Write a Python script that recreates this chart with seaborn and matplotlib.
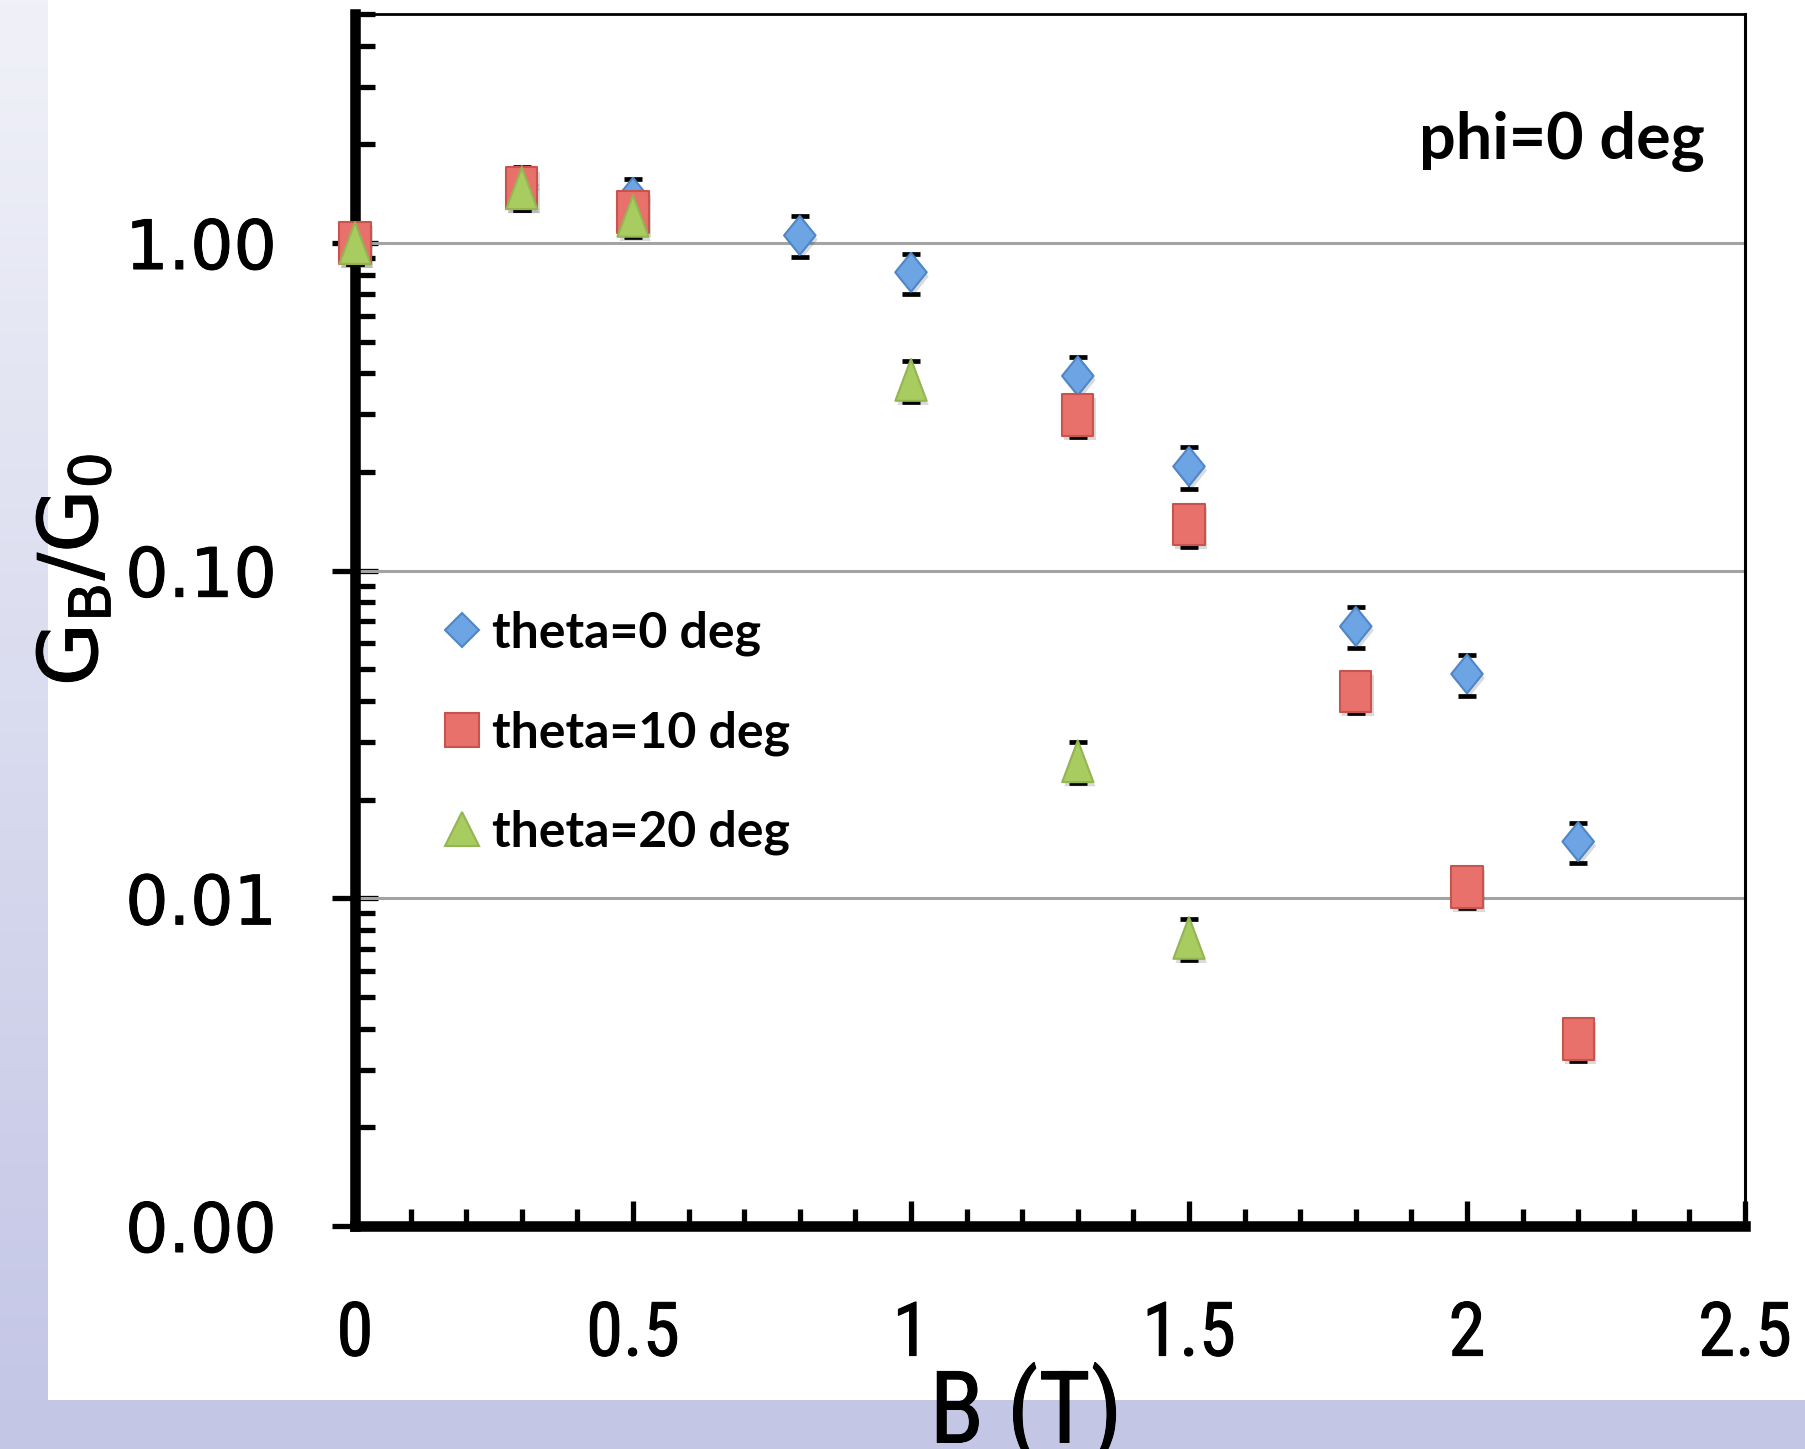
import numpy as np
import pandas as pd
import matplotlib
matplotlib.use("Agg")
import matplotlib.pyplot as plt
import seaborn as sns
from matplotlib import font_manager
from matplotlib.lines import Line2D
from matplotlib.patches import Rectangle
from matplotlib.path import Path
from matplotlib.ticker import FixedLocator, FixedFormatter, LogLocator, MultipleLocator, NullFormatter
import matplotlib.patheffects as pe

# ---------------- data ----------------
B_theta0 = [0.0, 0.3, 0.5, 0.8, 1.0, 1.3, 1.5, 1.8, 2.0, 2.2]
G_theta0 = [1.00, 1.50, 1.38, 1.055, 0.814, 0.393, 0.208, 0.0676, 0.0484, 0.0149]
E_theta0 = [0.14, 0.21, 0.19, 0.15, 0.115, 0.056, 0.030, 0.0097, 0.0069, 0.0021]

B_theta10 = [0.0, 0.3, 0.5, 1.3, 1.5, 1.8, 2.0, 2.2]
G_theta10 = [1.00, 1.47, 1.245, 0.299, 0.1385, 0.0428, 0.01083, 0.00372]
E_theta10 = [0.14, 0.21, 0.18, 0.043, 0.020, 0.0061, 0.0015, 0.00053]

B_theta20 = [0.0, 0.3, 0.5, 1.0, 1.3, 1.5]
G_theta20 = [1.00, 1.47, 1.21, 0.382, 0.0262, 0.00757]
E_theta20 = [0.14, 0.21, 0.17, 0.054, 0.0037, 0.00108]

series_labels = ["theta=0 deg", "theta=10 deg", "theta=20 deg"]
y_tick_values = [0.001, 0.01, 0.1, 1.0]
y_tick_labels = ["0.00", "0.01", "0.10", "1.00"]
x_tick_values = [0.0, 0.5, 1.0, 1.5, 2.0, 2.5]
x_tick_labels = ["0", "0.5", "1", "1.5", "2", "2.5"]
annotation_text = "phi=0 deg"
x_label = "B (T)"
y_label = r"G$_\mathregular{B}$/G$_\mathregular{0}$"

# ---------------- fonts ----------------
def pick(*names):
    for n in names:
        try:
            font_manager.findfont(font_manager.FontProperties(family=n), fallback_to_default=False)
            return n
        except Exception:
            pass
    return "DejaVu Sans"

narrow_font = pick("Liberation Sans Narrow", "DejaVu Sans Condensed", "Roboto Condensed", "DejaVu Sans")
bold_font = pick("Lato", "Open Sans", "Noto Sans", "DejaVu Sans")
tick_font = "DejaVu Sans"

sns.set_theme(style="white")
plt.rcParams["font.family"] = ["DejaVu Sans"]
plt.rcParams["text.color"] = "black"
plt.rcParams["xtick.color"] = "black"
plt.rcParams["ytick.color"] = "black"
plt.rcParams["axes.labelcolor"] = "black"

W, H = 1806, 1449
fig = plt.figure(figsize=(W / 100, H / 100), dpi=100)
fig.patch.set_facecolor("white")

# decorative background: left gradient strip and bottom band
bg = fig.add_axes([0, 49 / H, 48 / W, 1400 / H], zorder=-5)
top_c = np.array([0xF0, 0xF1, 0xF8]) / 255
bot_c = np.array([0xC4, 0xC7, 0xE6]) / 255
t = np.linspace(0, 1, 256)[:, None, None]
grad = top_c * (1 - t) + bot_c * t
bg.imshow(grad, aspect="auto", extent=[0, 1, 0, 1])
bg.set_axis_off()
fig.patches.append(Rectangle((0, 0), 1, 49 / H, transform=fig.transFigure,
                             facecolor="#c3c6e5", edgecolor="none", zorder=-4))

left, right, top, bottom = 355, 1745, 14, 1226
ax = fig.add_axes([left / W, 1 - bottom / H, (right - left) / W, (bottom - top) / H])
ax.set_facecolor("none")

# markers (vertically stretched shapes)
diamond = Path([(0, 0.5), (0.405, 0), (0, -0.5), (-0.405, 0), (0, 0.5)], closed=True)
square = Path([(-0.375, -0.5), (0.375, -0.5), (0.375, 0.5), (-0.375, 0.5), (-0.375, -0.5)], closed=True)
triangle = Path([(0, 0.5), (0.375, -0.5), (-0.375, -0.5), (0, 0.5)], closed=True)

face = ["#6da5e4", "#e8716b", "#a8cc5f"]
edge = ["#4f86c6", "#c9534d", "#93b552"]

series = [
    (B_theta0, G_theta0, E_theta0, diamond, 28.0 ** 2),
    (B_theta10, G_theta10, E_theta10, square, 30.0 ** 2),
    (B_theta20, G_theta20, E_theta20, triangle, 30.0 ** 2),
]

shadow = [pe.SimplePatchShadow(offset=(1.5, -3), shadow_rgbFace="k", alpha=0.16), pe.Normal()]

for i, (bx, gy, ee, mk, s) in enumerate(series):
    ax.errorbar(bx, gy, yerr=ee, fmt="none", ecolor="black", elinewidth=1.2,
                capsize=6.5, capthick=3.4, zorder=2 + i * 0.1, clip_on=False)
for i, (bx, gy, ee, mk, s) in enumerate(series):
    df = pd.DataFrame({"B": bx, "G": gy})
    sns.scatterplot(data=df, x="B", y="G", marker=mk, s=s, color=face[i],
                    edgecolor=edge[i], linewidth=1.5, ax=ax, zorder=3 + i, legend=False,
                    clip_on=False)
    ax.collections[-1].set_path_effects(shadow)

ax.set_yscale("log")
ax.set_ylim(0.001, 5)
ax.set_xlim(0, 2.5)
ax.set_xlabel("")
ax.set_ylabel("")

# grid lines at decades
for v in [0.01, 0.1, 1.0]:
    ax.axhline(v, color="#a3a3a3", lw=2.2, zorder=1)

# spines
for side, lw in [("left", 7.6), ("bottom", 7.6), ("top", 2.0), ("right", 2.2)]:
    ax.spines[side].set_visible(True)
    ax.spines[side].set_color("black")
    ax.spines[side].set_linewidth(lw)
    ax.spines[side].set_zorder(2.5)

# y ticks
ax.yaxis.set_major_locator(FixedLocator(y_tick_values))
ax.yaxis.set_major_formatter(FixedFormatter(y_tick_labels))
ax.yaxis.set_minor_locator(LogLocator(base=10, subs=np.arange(2, 10), numticks=20))
ax.yaxis.set_minor_formatter(NullFormatter())
ax.tick_params(axis="y", which="major", direction="inout", length=33, width=3.8,
               color="black", pad=40, labelsize=49, left=True)
ax.tick_params(axis="y", which="minor", direction="in", length=14.4, width=3.8,
               color="black", left=True)

# x ticks
ax.xaxis.set_major_locator(FixedLocator(x_tick_values))
ax.xaxis.set_major_formatter(FixedFormatter(x_tick_labels))
ax.xaxis.set_minor_locator(MultipleLocator(0.1))
ax.tick_params(axis="x", which="major", direction="in", length=18, width=3.8,
               color="black", pad=53, labelsize=54, bottom=True)
ax.tick_params(axis="x", which="minor", direction="in", length=12, width=3.8,
               color="black", bottom=True)
thick = [pe.withStroke(linewidth=0.7, foreground="black")]
for lab in ax.get_xticklabels():
    lab.set_family(narrow_font)
    lab.set_path_effects(thick)
for lab in ax.get_yticklabels():
    lab.set_family(tick_font)
    lab.set_path_effects(thick)

# axis labels
fig.text(1026 / W, 1 - 1362 / H, x_label, ha="center", va="top",
         family=narrow_font, fontsize=72, color="black", path_effects=thick)
fig.text(75 / W, 1 - 570 / H, y_label, ha="center", va="center", rotation=90,
         family=tick_font, fontsize=59, color="black", path_effects=thick)

# annotation
fig.text(1705 / W, 1 - 141 / H, annotation_text, ha="right", va="center",
         family=bold_font, fontweight="bold", fontsize=46.5, color="black")

# legend
handles = [
    Line2D([], [], ls="none", marker="D", ms=17.5, mfc=face[0], mec=edge[0], mew=1.5),
    Line2D([], [], ls="none", marker="s", ms=24, mfc=face[1], mec=edge[1], mew=1.5),
    Line2D([], [], ls="none", marker="^", ms=24, mfc=face[2], mec=edge[2], mew=1.5),
]
ax.legend(handles=handles, labels=series_labels, loc="center left",
          bbox_to_anchor=(417 / W, 1 - 733 / H), bbox_transform=fig.transFigure,
          frameon=False, borderpad=0, handlelength=0.8, handletextpad=0.2,
          labelspacing=1.08,
          prop=font_manager.FontProperties(family=bold_font, weight="bold", size=36))

fig.savefig("out.png", dpi=100)
